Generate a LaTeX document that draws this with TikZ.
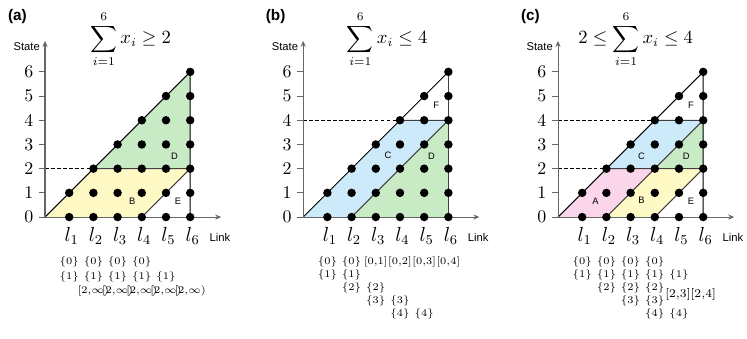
\documentclass[tikz,border=0pt]{standalone}
\usepackage{amsmath}
\usepackage{fontspec}
\setsansfont{Liberation Sans}
\usepackage{xcolor}
\usetikzlibrary{arrows.meta}
\usetikzlibrary{math}

\definecolor{fillA}{RGB}{251,214,235}
\definecolor{fillB}{RGB}{255,249,197}
\definecolor{fillC}{RGB}{204,234,250}
\definecolor{fillD}{RGB}{200,234,197}

\begin{document}
\begin{tikzpicture}[x=0.5cm,y=0.5cm,
  axisline/.style={line width=0.6, color=black!60},
  axisarrow/.style={axisline, -{Stealth[length=3.5pt,width=3pt]}},
  edge/.style={line width=0.6, color=black!75},
  rim/.style={line width=0.6, color=black},
  guide/.style={line width=0.6, dash pattern=on 2.2pt off 1.3pt},
  tag/.style={font=\sffamily\bfseries\fontsize{9}{10}\selectfont},
  ticklab/.style={font=\fontsize{10.5}{12}\selectfont, inner sep=0},
  linklab/.style={font=\fontsize{11.5}{13}\selectfont, inner sep=0},
  axlab/.style={font=\sffamily\fontsize{6.6}{7}\selectfont, inner sep=0},
  title/.style={font=\fontsize{10.5}{12}\selectfont, inner sep=0, anchor=west},
  setlab/.style={font=\fontsize{6}{7}\selectfont, inner sep=0},
  region/.style={font=\sffamily\fontsize{5.5}{6}\selectfont, inner sep=0}]
\tikzmath{
\offb=10.67;
\offc=21.2;
\rowy=-1.87;
\rowstep=0.53;
}
\useasboundingbox (-1.86,-5.0) rectangle (29.01,8.97);

% (a)
\fill[fillB] (0,0) -- (4,0) -- (6,2) -- (2,2) -- cycle;
\fill[fillD] (2,2) -- (6,2) -- (6,6) -- cycle;
\draw[guide] (0,2) -- (2,2);
\draw[edge] (4,0) -- (6,2) (2,2) -- (6,2);
\draw[rim] (0,0) -- (6,6) -- (6,0);
\node[region] (Ba) at (3.6,0.65) {B};
\node[region] (Ea) at (5.5,0.67) {E};
\node[region] (Da) at (5.35,2.52) {D};
\node[title] (suma) at (1.86,7.36) {$\displaystyle\sum_{i=1}^{6} x_i \geq 2$};
\foreach \i in {1,...,4} \node[setlab] (sa0\i) at (\i,\rowy) {$\{0\}$};
\foreach \i in {1,...,5} \node[setlab] (sa1\i) at (\i,\rowy-0.6) {$\{1\}$};
\foreach \i in {2,...,6} \node[setlab, font=\fontsize{5.7}{7}\selectfont] (sa2\i) at (\i,\rowy-1.2) {$[2{,}\infty)$};

% (b)
\begin{scope}[shift={(\offb,0)}]
\fill[fillC] (0,0) -- (2,0) -- (6,4) -- (4,4) -- cycle;
\fill[fillD] (2,0) -- (6,0) -- (6,4) -- cycle;
\draw[guide] (0,4) -- (4,4);
\draw[edge] (2,0) -- (6,4) (4,4) -- (6,4);
\draw[rim] (0,0) -- (6,6);
\draw[edge] (6,6) -- (6,0);
\node[region] (Cb) at (3.5,2.56) {C};
\node[region] (Db) at (5.3,2.5) {D};
\node[region] (Fb) at (5.5,4.6) {F};
\node[title] (sumb) at (1.79,7.36) {$\displaystyle\sum_{i=1}^{6} x_i \leq 4$};
\node[setlab] (sb01) at (1,\rowy) {$\{0\}$};
\node[setlab] (sb02) at (2,\rowy) {$\{0\}$};
\foreach \i/\k in {3/1,4/2,5/3,6/4} \node[setlab] (sb0\i) at (\i,\rowy) {$[0{,}\k]$};
\foreach \k in {1,...,4}
  \foreach \i in {0,1} \node[setlab] (sb\k\i) at (\k+\i,\rowy-\k*\rowstep) {$\{\k\}$};
\end{scope}

% (c)
\begin{scope}[shift={(\offc,0)}]
\fill[fillA] (0,0) -- (2,0) -- (4,2) -- (2,2) -- cycle;
\fill[fillB] (2,0) -- (4,0) -- (6,2) -- (4,2) -- cycle;
\fill[fillC] (2,2) -- (4,2) -- (6,4) -- (4,4) -- cycle;
\fill[fillD] (4,2) -- (6,2) -- (6,4) -- cycle;
\draw[guide] (0,2) -- (2,2) (0,4) -- (4,4);
\draw[edge] (2,0) -- (6,4) (4,0) -- (6,2) (2,2) -- (6,2) (4,4) -- (6,4);
\draw[rim] (0,0) -- (6,6) -- (6,0);
\node[region] (Ac) at (1.55,0.65) {A};
\node[region] (Bc) at (3.45,0.68) {B};
\node[region] (Ec) at (5.5,0.67) {E};
\node[region] (Cc) at (3.45,2.52) {C};
\node[region] (Dc) at (5.3,2.52) {D};
\node[region] (Fc) at (5.5,4.6) {F};
\node[title] (sumc) at (0.83,7.36) {$\displaystyle 2 \leq \sum_{i=1}^{6} x_i \leq 4$};
\foreach \i in {1,...,4} \node[setlab] (sc0\i) at (\i,\rowy) {$\{0\}$};
\foreach \i in {1,...,5} \node[setlab] (sc1\i) at (\i,\rowy-\rowstep) {$\{1\}$};
\foreach \i in {2,...,4} \node[setlab] (sc2\i) at (\i,\rowy-2*\rowstep) {$\{2\}$};
\foreach \i in {3,4} \node[setlab] (sc3\i) at (\i,\rowy-3*\rowstep) {$\{3\}$};
\foreach \i in {4,5} \node[setlab] (sc4\i) at (\i,\rowy-4*\rowstep) {$\{4\}$};
\node[setlab, font=\fontsize{7}{8}\selectfont] (sc56) at (5.48,\rowy-2.5*\rowstep) {$[2{,}3][2{,}4]$};
\end{scope}

% axes, lattice points, labels
\foreach \s/\p in {0/a,\offb/b,\offc/c}{
\begin{scope}[shift={(\s,0)}]
\draw[axisarrow] (0,0) -- (7.28,0);
\draw[axisarrow] (0,0) -- (0,7.28);
\foreach \j in {0,...,6}{
  \draw[axisline] (-0.24,\j) -- (0,\j);
  \node[ticklab] (y\j\p) at (-0.67,\j) {\j};
}
\foreach \i in {1,...,6}{
  \draw[axisline] (\i,0) -- (\i,-0.15);
  \node[linklab, anchor=base] (l\i\p) at (\i+0.1,-1.02) {$l_{\i}$};
  \foreach \j in {0,...,\i} \fill (\i,\j) circle (0.175);
}
\node[axlab, anchor=base east] (state\p) at (-0.2,6.9) {State};
\node[axlab, anchor=base west] (link\p) at (6.79,-1.02) {Link};
\node[tag] (tag\p) at (-1.14,8.29) {(\p)};
\end{scope}
}
\end{tikzpicture}
\end{document}
